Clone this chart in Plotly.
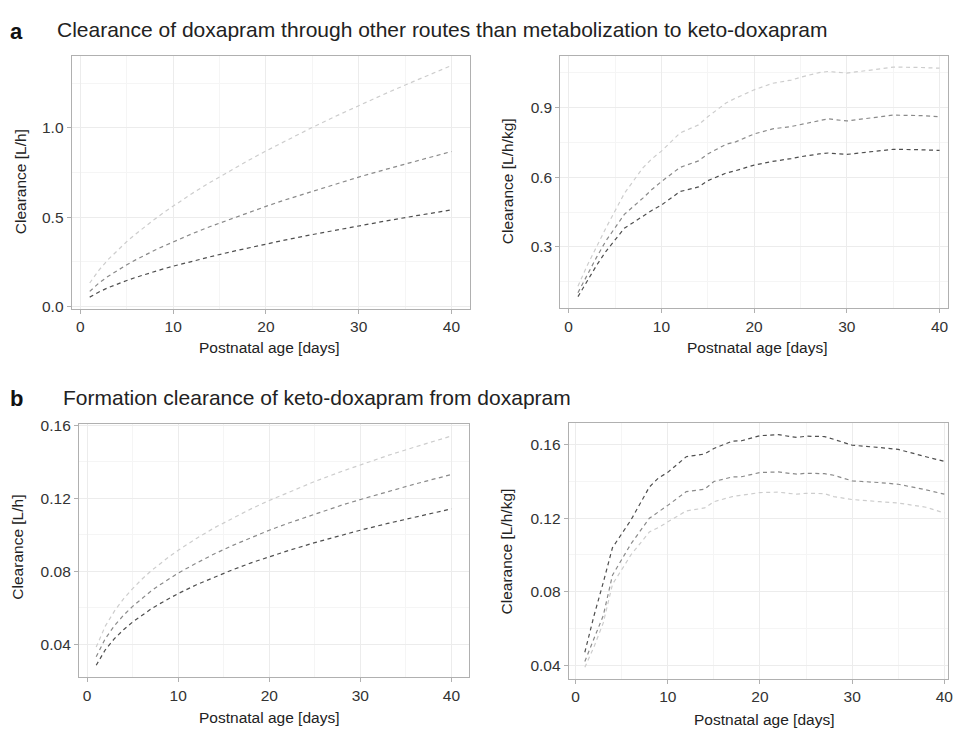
import plotly.graph_objects as go

# ---------------- data ----------------
# Panel a (left): clearance [L/h] vs postnatal age
age_left = [1, 2, 3, 4, 5, 6, 7, 8, 9, 10, 12, 14, 16, 18, 20, 22, 25, 28, 30, 33, 36, 40]
a_left_dark = [0.053, 0.082, 0.106, 0.127, 0.146, 0.164, 0.181, 0.196, 0.212, 0.226, 0.254,
               0.279, 0.304, 0.327, 0.350, 0.372, 0.403, 0.433, 0.452, 0.480, 0.507, 0.541]
a_left_mid = [0.085, 0.132, 0.170, 0.204, 0.234, 0.263, 0.290, 0.315, 0.339, 0.363, 0.407,
              0.448, 0.487, 0.525, 0.561, 0.596, 0.646, 0.694, 0.725, 0.769, 0.813, 0.868]
a_left_light = [0.132, 0.204, 0.264, 0.316, 0.364, 0.408, 0.450, 0.489, 0.527, 0.563, 0.632,
                0.696, 0.757, 0.815, 0.871, 0.925, 1.003, 1.077, 1.125, 1.195, 1.262, 1.349]

# Panel b (left): formation clearance [L/h]
b_left_dark = [0.0286, 0.0371, 0.0432, 0.0481, 0.0523, 0.0561, 0.0594, 0.0624, 0.0653, 0.0679, 0.0727,
               0.0770, 0.0810, 0.0847, 0.0881, 0.0913, 0.0958, 0.1000, 0.1026, 0.1063, 0.1098, 0.1143]
b_left_mid = [0.0333, 0.0432, 0.0503, 0.0560, 0.0609, 0.0653, 0.0692, 0.0727, 0.0760, 0.0791, 0.0846,
              0.0897, 0.0943, 0.0986, 0.1026, 0.1063, 0.1115, 0.1164, 0.1194, 0.1238, 0.1279, 0.1331]
b_left_light = [0.0386, 0.0501, 0.0583, 0.0650, 0.0706, 0.0757, 0.0802, 0.0843, 0.0881, 0.0916, 0.0981,
                0.1040, 0.1093, 0.1143, 0.1189, 0.1232, 0.1293, 0.1349, 0.1385, 0.1435, 0.1482, 0.1542]

# Right panels: clearance per kg
age_right = [1, 2, 3, 4, 6, 8, 9, 10, 12, 14, 15, 17, 18, 20, 22, 24, 25, 27, 28, 30, 33, 35, 38, 40]
a_right_light = [0.131, 0.22, 0.30, 0.38, 0.53, 0.64, 0.68, 0.712, 0.79, 0.825, 0.86, 0.92, 0.94, 0.976,
                 1.004, 1.018, 1.03, 1.05, 1.055, 1.048, 1.063, 1.074, 1.072, 1.069]
a_right_mid = [0.103, 0.18, 0.255, 0.325, 0.44, 0.51, 0.548, 0.581, 0.642, 0.67, 0.70, 0.742, 0.752, 0.786,
               0.808, 0.818, 0.826, 0.845, 0.851, 0.842, 0.857, 0.867, 0.865, 0.860]
a_right_dark = [0.086, 0.155, 0.22, 0.28, 0.38, 0.432, 0.458, 0.48, 0.538, 0.558, 0.585, 0.618, 0.628, 0.652,
                0.668, 0.68, 0.688, 0.700, 0.704, 0.698, 0.712, 0.720, 0.718, 0.715]

b_right_dark = [0.047, 0.067, 0.085, 0.104, 0.119, 0.137, 0.142, 0.145, 0.1535, 0.155, 0.158, 0.162, 0.1622,
                0.165, 0.1655, 0.164, 0.1647, 0.1645, 0.163, 0.1598, 0.1585, 0.1575, 0.1535, 0.151]
b_right_mid = [0.042, 0.055, 0.067, 0.089, 0.106, 0.120, 0.1235, 0.127, 0.1345, 0.1358, 0.140, 0.1425, 0.1426,
               0.1449, 0.1452, 0.144, 0.1445, 0.1443, 0.1434, 0.1404, 0.1394, 0.1385, 0.1355, 0.1331]
b_right_light = [0.0388, 0.050, 0.063, 0.084, 0.100, 0.1125, 0.115, 0.118, 0.124, 0.1256, 0.129, 0.1318, 0.1324,
                 0.134, 0.1342, 0.1331, 0.1336, 0.1334, 0.1318, 0.1302, 0.129, 0.1283, 0.126, 0.1229]

x_ticks = [0, 10, 20, 30, 40]
title_a = "Clearance of doxapram through other routes than metabolization to keto-doxapram"
title_b = "Formation clearance of keto-doxapram from doxapram"
x_title = "Postnatal age [days]"
y_title_abs = "Clearance [L/h]"
y_title_kg = "Clearance [L/h/kg]"

# ---------------- styling ----------------
W, H = 953, 732
FONT = "Liberation Sans, Arial, Helvetica, sans-serif"
C_DARK, C_MID, C_LIGHT = "#4f4f4f", "#8a8a8a", "#cdcdcd"


def px_x(p):
    return p / W


def px_y(p):
    return 1 - p / H


fig = go.Figure()

panels = [
    ("x", "y", age_left, [a_left_light, a_left_mid, a_left_dark], (72, 472), (50, 307),
     [-0.95, 41.95], [-0.011, 1.402], [0, 0.5, 1.0], ["0.0", "0.5", "1.0"], [0.25, 0.75, 1.25]),
    ("x2", "y2", age_right, [a_right_light, a_right_mid, a_right_dark], (563.3, 953), (50, 306.7),
     [-0.9, 40.91], [0.036, 1.121], [0.3, 0.6, 0.9], ["0.3", "0.6", "0.9"], [0.15, 0.45, 0.75, 1.05]),
    ("x3", "y3", age_left, [b_left_light, b_left_mid, b_left_dark], (79.3, 471.7), (424.3, 682.3),
     [-0.9, 41.95], [0.0221, 0.1609], [0.04, 0.08, 0.12, 0.16], ["0.04", "0.08", "0.12", "0.16"],
     [0.06, 0.10, 0.14]),
    ("x4", "y4", age_right, [b_right_light, b_right_mid, b_right_dark], (571.7, 953), (423.3, 684),
     [-0.75, 40.4], [0.0325, 0.172], [0.04, 0.08, 0.12, 0.16], ["0.04", "0.08", "0.12", "0.16"],
     [0.06, 0.10, 0.14]),
]

colors = [C_LIGHT, C_MID, C_DARK]
layout_axes = {}
for xa, ya, xd, series, xdom, ydom, xr, yr, yt, ytl, yminor in panels:
    for s, c in zip(series, colors):
        fig.add_trace(go.Scatter(x=xd, y=s, xaxis=xa, yaxis=ya, mode="lines",
                                 line=dict(color=c, width=1.2, dash="4px,3.5px"),
                                 showlegend=False, hoverinfo="skip"))
    xkey = "xaxis" if xa == "x" else "xaxis" + xa[1:]
    ykey = "yaxis" if ya == "y" else "yaxis" + ya[1:]
    common = dict(showline=True, mirror=True, linecolor="#b0b0b0", linewidth=1,
                  ticks="outside", ticklen=4, tickcolor="#b0b0b0", tickwidth=1,
                  showgrid=True, gridcolor="#ececec", gridwidth=0.7, zeroline=False,
                  ticklabeloverflow="allow",
                  tickfont=dict(family=FONT, size=15.5, color="#333333"))
    layout_axes[xkey] = dict(common, domain=[px_x(xdom[0]), min(1.0, px_x(xdom[1]))],
                             anchor=ya, range=xr, tickmode="array", tickvals=x_ticks,
                             minor=dict(tickvals=[5, 15, 25, 35], showgrid=True,
                                        gridcolor="#f5f5f5", gridwidth=0.6, ticks=""))
    layout_axes[ykey] = dict(common, domain=[px_y(ydom[1]), px_y(ydom[0])],
                             anchor=xa, range=yr, tickmode="array", tickvals=yt, ticktext=ytl,
                             minor=dict(tickvals=yminor, showgrid=True,
                                        gridcolor="#f5f5f5", gridwidth=0.6, ticks=""))

annotations = []


def ann(text, x, y, size, rot=0, bold=False, xanchor="center", color="#222222"):
    annotations.append(dict(text=f"<b>{text}</b>" if bold else text, xref="paper", yref="paper",
                            x=px_x(x), y=px_y(y), xanchor=xanchor, yanchor="middle",
                            showarrow=False, textangle=rot,
                            font=dict(family=FONT, size=size, color=color)))


# panel headings
ann("a", 8, 25, 22, bold=True, xanchor="left", color="#111111")
ann(title_a, 55, 23, 21, xanchor="left")
ann("b", 8, 399, 22, bold=True, xanchor="left", color="#111111")
ann(title_b, 61, 398, 21, xanchor="left")

# axis titles
ann(x_title, 270.5, 347, 15.5)
ann(x_title, 761, 347, 15.5)
ann(x_title, 270, 723, 15.5)
ann(x_title, 768, 725, 15.5)
ann(y_title_abs, 20.5, 178, 15.5, rot=-90)
ann(y_title_kg, 510.5, 177.5, 15.5, rot=-90)
ann(y_title_abs, 17.5, 550, 15.5, rot=-90)
ann(y_title_kg, 509, 554, 15.5, rot=-90)

fig.update_layout(width=W, height=H, margin=dict(l=0, r=0, t=0, b=0),
                  paper_bgcolor="white", plot_bgcolor="white",
                  font=dict(family=FONT), annotations=annotations, **layout_axes)

fig.write_html("out.html", config={"displayModeBar": False},
               post_script="document.body.style.margin='0px';document.body.style.overflow='hidden';")
